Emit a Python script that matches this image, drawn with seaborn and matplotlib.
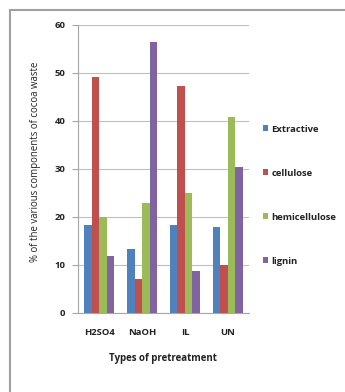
import matplotlib
matplotlib.use("Agg")
import matplotlib.pyplot as plt
from matplotlib.lines import Line2D
from matplotlib.patches import Patch
import pandas as pd
import seaborn as sns

# Composition of cocoa waste (%) after each pretreatment
treatments = ["H2SO4", "NaOH", "IL", "UN"]
extractive = [18.3, 13.4, 18.3, 18.0]
cellulose = [49.1, 7.1, 47.2, 10.0]
hemicellulose = [20.0, 22.9, 25.1, 40.9]
lignin = [11.9, 56.4, 8.8, 30.5]

components = ["Extractive", "cellulose", "hemicellulose", "lignin"]
colors = ["#4F81BD", "#C0504D", "#9BBB59", "#8064A2"]

df = pd.DataFrame({
    "treatment": treatments * 4,
    "component": [c for c in components for _ in treatments],
    "value": extractive + cellulose + hemicellulose + lignin,
})

sns.set_style("white")
plt.rcParams["font.family"] = ["Open Sans", "DejaVu Sans"]

fig = plt.figure(figsize=(3.45, 3.92), dpi=100)
ax = fig.add_axes([78 / 345, 1 - 313 / 392, (249 - 78) / 345, (313 - 25) / 392])

sns.barplot(data=df, x="treatment", y="value", hue="component",
            hue_order=components, palette=colors, saturation=1,
            width=0.7, linewidth=0, legend=False, ax=ax, zorder=3)

grey = "#A6A6A6"
txt = "#222222"
ax.set_ylim(0, 60)
ax.set_yticks(range(0, 61, 10))
ax.set_xlim(-0.5, 3.5)
ax.grid(axis="y", color="#BFBFBF", linewidth=0.8, zorder=0)
ax.grid(axis="x", visible=False)
for s in ["top", "right"]:
    ax.spines[s].set_visible(False)
for s in ["left", "bottom"]:
    ax.spines[s].set_color(grey)
    ax.spines[s].set_linewidth(0.8)

# category separators on the x axis
ax.set_xticks([-0.5, 0.5, 1.5, 2.5, 3.5], minor=True)
ax.tick_params(axis="x", which="major", length=0, pad=11, labelsize=6.8, colors=txt)
ax.tick_params(axis="x", which="minor", length=4, width=0.8, color=grey, direction="out")
ax.tick_params(axis="y", length=4, width=0.8, color=grey, direction="out", pad=5,
               labelsize=6.8, labelcolor=txt, left=True)
for lbl in ax.get_xticklabels() + ax.get_yticklabels():
    lbl.set_fontweight("bold")

ax.set_xlabel("Types of pretreatment", fontsize=7, fontweight="bold", color=txt)
ax.xaxis.set_label_coords((163 - 78) / 171, -(358 - 313) / 288)
ax.set_ylabel("% of the various components of cocoa waste", fontsize=6.9, color=txt)
ax.yaxis.set_label_coords((36 - 78) / 171, (313 - 162) / 288)
ax.yaxis.label.set_verticalalignment("center")
ax.xaxis.label.set_verticalalignment("center")

handles = [Patch(facecolor=c, edgecolor="none") for c in colors]
leg = fig.legend(handles, components, loc="upper left",
                 bbox_to_anchor=(259 / 345, 1 - 121 / 392), frameon=False,
                 fontsize=6.8, handlelength=0.6, handleheight=0.6,
                 handletextpad=0.3, labelspacing=3.7, borderaxespad=0)
for t in leg.get_texts():
    t.set_fontweight("bold")
    t.set_color(txt)

# outer chart frame
fig.add_artist(Line2D([10 / 345, 10 / 345], [0, 1 - 10 / 392],
                      transform=fig.transFigure, color="#A0A0A0", linewidth=1.5))
fig.add_artist(Line2D([10 / 345, 1], [1 - 10 / 392, 1 - 10 / 392],
                      transform=fig.transFigure, color="#A0A0A0", linewidth=1.5))

fig.savefig("out.png", dpi=100)
